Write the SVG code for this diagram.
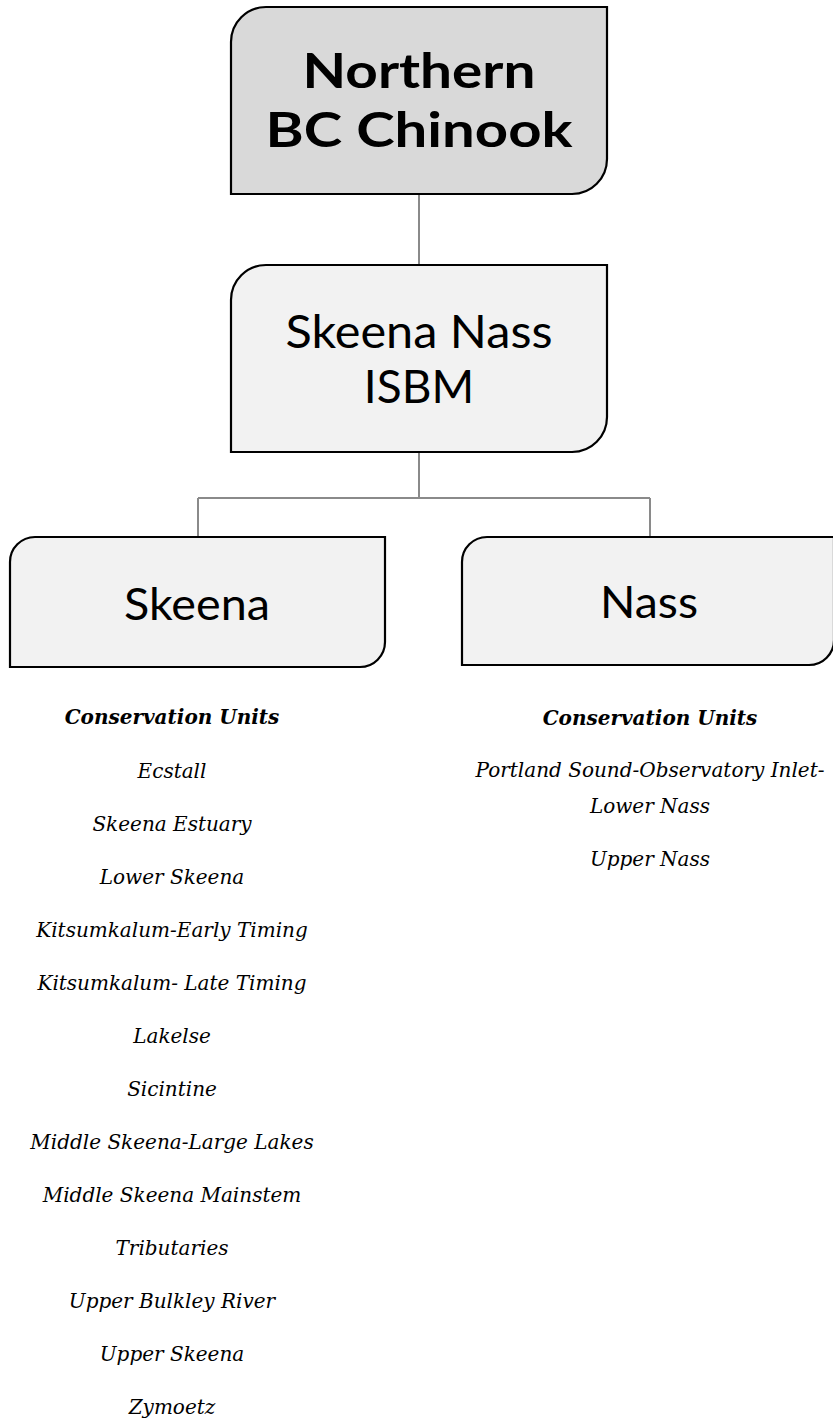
<svg xmlns="http://www.w3.org/2000/svg" width="833" height="1422" viewBox="0 0 833 1422">
<style>
.box{stroke:#000;stroke-width:2.2}
.dark{fill:#d9d9d9}
.light{fill:#f2f2f2}
.conn{fill:none;stroke:#8a8a8a;stroke-width:2}
.sans{font-family:Lato,"Open Sans",sans-serif;fill:#000;text-anchor:middle}
.cu{font-family:"DejaVu Serif","Liberation Serif",serif;font-style:italic;font-size:20px;fill:#000;text-anchor:middle}
.cuh{font-weight:bold}
</style>
<rect width="833" height="1422" fill="#fff"/>
<g id="connectors">
<path class="conn" d="M419 194 V265"/>
<path class="conn" d="M419 452 V498 M198 498 H650 M198 498 V537 M650 498 V537"/>
</g>
<g id="node-northern">
<path class="box dark" d="M266 7 H607 V159 A35 35 0 0 1 572 194 H231 V42 A35 35 0 0 1 266 7 Z"/>
<text class="sans" font-size="48" font-weight="bold" x="419" y="88" textLength="233" lengthAdjust="spacingAndGlyphs">Northern</text>
<text class="sans" font-size="48" font-weight="bold" x="419" y="147" textLength="307" lengthAdjust="spacingAndGlyphs">BC Chinook</text>
</g>
<g id="node-isbm">
<path class="box light" d="M266 265 H607 V417 A35 35 0 0 1 572 452 H231 V300 A35 35 0 0 1 266 265 Z"/>
<text class="sans" font-size="46" x="419" y="348" textLength="267" lengthAdjust="spacingAndGlyphs">Skeena Nass</text>
<text class="sans" font-size="46" x="419" y="403">ISBM</text>
</g>
<g id="node-skeena">
<path class="box light" d="M35 537 H385 V642 A25 25 0 0 1 360 667 H10 V562 A25 25 0 0 1 35 537 Z"/>
<text class="sans" font-size="44" x="197" y="620" textLength="146" lengthAdjust="spacingAndGlyphs">Skeena</text>
</g>
<g id="node-nass">
<path class="box light" d="M487 537 H834 V640 A25 25 0 0 1 809 665 H462 V562 A25 25 0 0 1 487 537 Z"/>
<text class="sans" font-size="44" x="649" y="618" textLength="98" lengthAdjust="spacingAndGlyphs">Nass</text>
</g>
<g id="skeena-units">
<text class="cu cuh" x="172" y="724">Conservation Units</text>
<text class="cu" x="172" y="778">Ecstall</text>
<text class="cu" x="172" y="831">Skeena Estuary</text>
<text class="cu" x="172" y="884">Lower Skeena</text>
<text class="cu" x="172" y="937">Kitsumkalum-Early Timing</text>
<text class="cu" x="172" y="990">Kitsumkalum- Late Timing</text>
<text class="cu" x="172" y="1043">Lakelse</text>
<text class="cu" x="172" y="1096">Sicintine</text>
<text class="cu" x="172" y="1149">Middle Skeena-Large Lakes</text>
<text class="cu" x="172" y="1202">Middle Skeena Mainstem</text>
<text class="cu" x="172" y="1255">Tributaries</text>
<text class="cu" x="172" y="1308">Upper Bulkley River</text>
<text class="cu" x="172" y="1361">Upper Skeena</text>
<text class="cu" x="172" y="1414">Zymoetz</text>
</g>
<g id="nass-units">
<text class="cu cuh" x="650" y="725">Conservation Units</text>
<text class="cu" x="650" y="777">Portland Sound-Observatory Inlet-</text>
<text class="cu" x="650" y="813">Lower Nass</text>
<text class="cu" x="650" y="866">Upper Nass</text>
</g>
</svg>
